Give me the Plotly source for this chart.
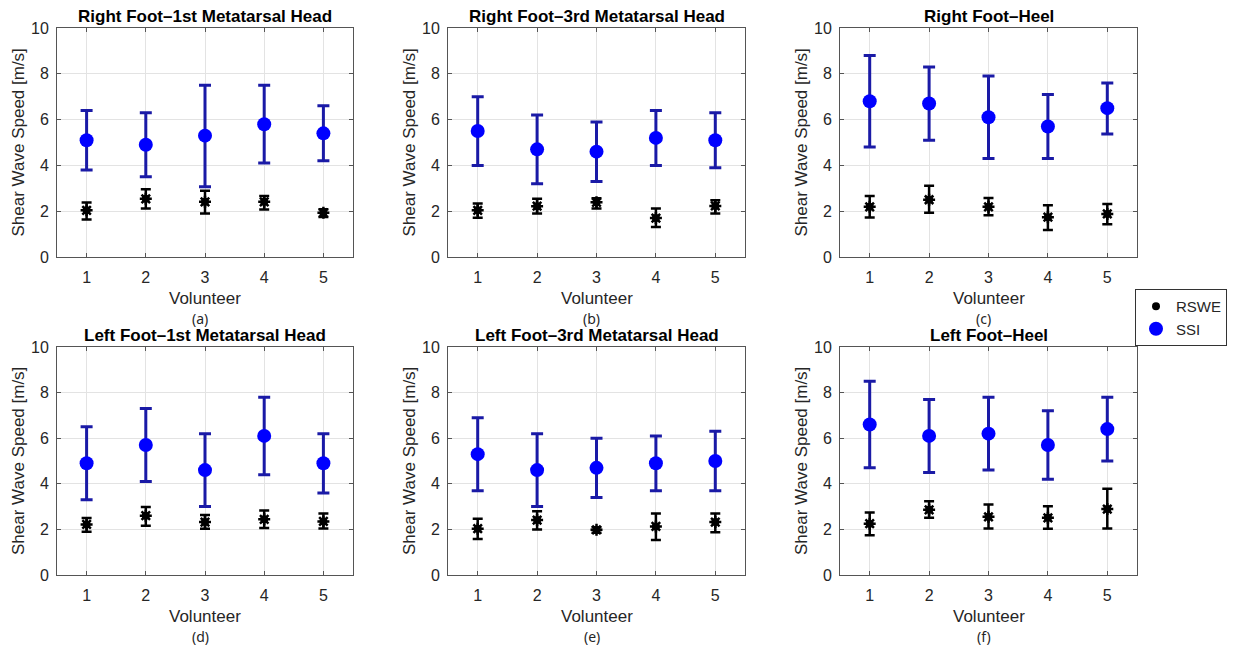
import plotly.graph_objects as go

volunteers = [1, 2, 3, 4, 5]
titles = ["Right Foot\u20131st Metatarsal Head", "Right Foot\u20133rd Metatarsal Head", "Right Foot\u2013Heel",
          "Left Foot\u20131st Metatarsal Head", "Left Foot\u20133rd Metatarsal Head", "Left Foot\u2013Heel"]
letters = ["(a)", "(b)", "(c)", "(d)", "(e)", "(f)"]

# SSI: mean, upper, lower
ssi_mean = [
    [5.1, 4.9, 5.3, 5.8, 5.4],
    [5.5, 4.7, 4.6, 5.2, 5.1],
    [6.8, 6.7, 6.1, 5.7, 6.5],
    [4.9, 5.7, 4.6, 6.1, 4.9],
    [5.3, 4.6, 4.7, 4.9, 5.0],
    [6.6, 6.1, 6.2, 5.7, 6.4],
]
ssi_upper = [
    [6.4, 6.3, 7.5, 7.5, 6.6],
    [7.0, 6.2, 5.9, 6.4, 6.3],
    [8.8, 8.3, 7.9, 7.1, 7.6],
    [6.5, 7.3, 6.2, 7.8, 6.2],
    [6.9, 6.2, 6.0, 6.1, 6.3],
    [8.5, 7.7, 7.8, 7.2, 7.8],
]
ssi_lower = [
    [3.8, 3.5, 3.07, 4.1, 4.2],
    [4.0, 3.2, 3.3, 4.0, 3.9],
    [4.8, 5.1, 4.3, 4.3, 5.37],
    [3.3, 4.1, 3.0, 4.4, 3.6],
    [3.7, 3.0, 3.4, 3.7, 3.7],
    [4.7, 4.5, 4.6, 4.2, 5.0],
]
# RSWE: mean, upper, lower
rswe_mean = [
    [2.04, 2.54, 2.41, 2.41, 1.93],
    [2.04, 2.22, 2.39, 1.70, 2.23],
    [2.19, 2.50, 2.19, 1.74, 1.88],
    [2.22, 2.60, 2.32, 2.44, 2.35],
    [2.03, 2.41, 1.98, 2.13, 2.32],
    [2.25, 2.86, 2.55, 2.51, 2.89],
]
rswe_upper = [
    [2.38, 2.96, 2.89, 2.66, 2.09],
    [2.34, 2.54, 2.57, 2.12, 2.48],
    [2.66, 3.11, 2.58, 2.26, 2.31],
    [2.50, 2.98, 2.63, 2.83, 2.70],
    [2.47, 2.80, 2.09, 2.70, 2.70],
    [2.74, 3.23, 3.09, 3.02, 3.78],
]
rswe_lower = [
    [1.64, 2.12, 1.90, 2.07, 1.75],
    [1.71, 1.90, 2.12, 1.31, 1.90],
    [1.72, 1.93, 1.82, 1.18, 1.43],
    [1.90, 2.16, 2.03, 2.06, 2.04],
    [1.58, 2.00, 1.85, 1.53, 1.88],
    [1.74, 2.51, 2.04, 2.03, 2.04],
]
y_ticks = [0, 2, 4, 6, 8, 10]
x_label = "Volunteer"
y_label = "Shear Wave Speed [m/s]"

W, H = 1238, 645
col_px = [(57, 353), (448, 745), (840, 1137)]
row_px = [(28, 257), (347, 575)]

FONT = "Liberation Sans, Arial, sans-serif"
TXT = "#262626"
fig = go.Figure()
layout = dict(width=W, height=H, margin=dict(l=0, r=0, t=0, b=0, autoexpand=False),
              plot_bgcolor="white", paper_bgcolor="white", showlegend=True,
              font=dict(family=FONT, color=TXT))
annotations = []

for i in range(6):
    r, c = divmod(i, 3)
    n = i + 1
    xa = "x" if n == 1 else f"x{n}"
    ya = "y" if n == 1 else f"y{n}"
    x0, x1 = col_px[c]
    t0, t1 = row_px[r]
    xd = [x0 / W, x1 / W]
    yd = [1 - t1 / H, 1 - t0 / H]
    axcommon = dict(showgrid=True, gridcolor="#e3e3e3", gridwidth=1, showline=True,
                    linecolor="#555555", linewidth=1, mirror="ticks", ticks="inside",
                    ticklen=4, tickcolor="#555555", zeroline=False, automargin=False,
                    tickfont=dict(size=16, color=TXT, family=FONT))
    layout["xaxis" if n == 1 else f"xaxis{n}"] = dict(
        domain=xd, anchor=ya, range=[0.5, 5.5], tickvals=volunteers,
        ticklabelstandoff=6, **axcommon)
    layout["yaxis" if n == 1 else f"yaxis{n}"] = dict(
        domain=yd, anchor=xa, range=[0, 10], tickvals=y_ticks,
        ticklabelstandoff=4, **axcommon)

    em = rswe_mean[i]
    fig.add_trace(go.Scatter(
        x=volunteers, y=em, xaxis=xa, yaxis=ya, mode="markers", name="RSWE",
        legendgroup="RSWE", showlegend=(i == 0),
        marker=dict(symbol="circle", size=8, color="black"),
        error_y=dict(type="data", symmetric=False,
                     array=[u - m for u, m in zip(rswe_upper[i], em)],
                     arrayminus=[m - l for m, l in zip(em, rswe_lower[i])],
                     color="black", thickness=2.5, width=5)))
    fig.add_trace(go.Scatter(
        x=volunteers, y=em, xaxis=xa, yaxis=ya, mode="markers", name="RSWE",
        legendgroup="RSWE", showlegend=False, hoverinfo="skip",
        marker=dict(symbol="asterisk-open", size=10, color="black",
                    line=dict(color="black", width=2.5))))
    sm = ssi_mean[i]
    fig.add_trace(go.Scatter(
        x=volunteers, y=sm, xaxis=xa, yaxis=ya, mode="markers", name="SSI",
        legendgroup="SSI", showlegend=(i == 0),
        marker=dict(symbol="circle", size=14, color="#0000ff"),
        error_y=dict(type="data", symmetric=False,
                     array=[u - m for u, m in zip(ssi_upper[i], sm)],
                     arrayminus=[m - l for m, l in zip(sm, ssi_lower[i])],
                     color="#1a1aa6", thickness=3, width=6)))

    cx = (x0 + x1) / 2 / W
    annotations.append(dict(text=f"<b>{titles[i]}</b>", x=cx, y=1 - (t0 - 12) / H,
                            xref="paper", yref="paper", showarrow=False,
                            font=dict(size=17, color="black", family=FONT),
                            xanchor="center", yanchor="middle"))
    annotations.append(dict(text=x_label, x=cx, y=1 - (t1 + 41) / H,
                            xref="paper", yref="paper", showarrow=False,
                            font=dict(size=17, color=TXT, family=FONT),
                            xanchor="center", yanchor="middle"))
    annotations.append(dict(text=letters[i], x=(x0 + x1) / 2 / W - 5 / W, y=1 - (t1 + 61) / H,
                            xref="paper", yref="paper", showarrow=False,
                            font=dict(size=14, color=TXT, family="Noto Sans, sans-serif"),
                            xanchor="center", yanchor="middle"))
    annotations.append(dict(text=y_label, x=(x0 - 39) / W, y=1 - (t0 + t1) / 2 / H,
                            xref="paper", yref="paper", showarrow=False, textangle=-90,
                            font=dict(size=17, color=TXT, family=FONT),
                            xanchor="center", yanchor="middle"))

layout["annotations"] = annotations
layout["legend"] = dict(x=1135 / W, y=1 - 289 / H, xanchor="left", yanchor="top",
                        bordercolor="#333333", borderwidth=1, bgcolor="white",
                        font=dict(size=15, color=TXT, family=FONT),
                        itemwidth=30, tracegroupgap=0)
fig.update_layout(**layout)
fig.write_html("out.html", config={"displayModeBar": False},
               post_script="document.body.style.margin='0';document.body.style.overflow='hidden';")
